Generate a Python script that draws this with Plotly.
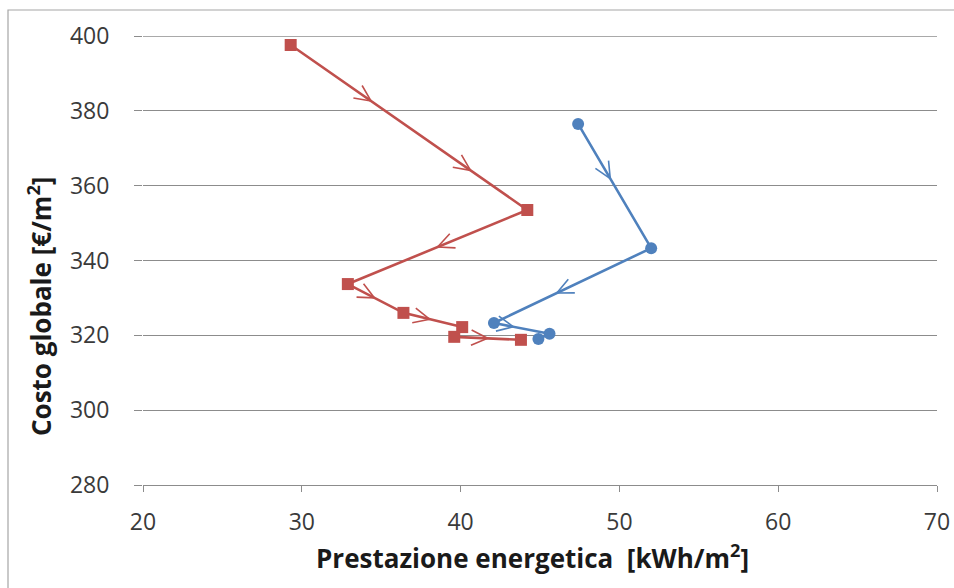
import math
import plotly.graph_objects as go

# ---- data ----
red_x = [29.3, 44.2, 32.9, 36.4, 40.1, 39.6, 43.8]
red_y = [397.6, 353.5, 333.7, 326.0, 322.2, 319.6, 318.8]
blue_x = [47.4, 52.0, 42.1, 45.6, 44.9]
blue_y = [376.5, 343.3, 323.3, 320.4, 319.0]
# fractions along each segment where a direction chevron is drawn
red_arrow_pos = [[0.34, 0.76], [0.5], [0.48], [0.45], [], [0.5]]
blue_arrow_pos = [[0.44], [0.6], [0.35], []]

x_range = [20, 70]
y_range = [280, 400]
x_ticks = [20, 30, 40, 50, 60, 70]
y_ticks = [280, 300, 320, 340, 360, 380, 400]

x_title = "<b>Prestazione energetica  [kWh/m<sup>2</sup>]</b>"
y_title = "<b>Costo globale [€/m<sup>2</sup>]</b>"

RED = "#C0504D"
BLUE = "#4F81BD"
GRID = "#8C8C8C"

W, H = 954, 588
ML, MR, MT, MB = 143, 17, 36, 103
PW, PH = W - ML - MR, H - MT - MB


def to_px(x, y):
    px = (x - x_range[0]) / (x_range[1] - x_range[0]) * PW
    py = (y - y_range[0]) / (y_range[1] - y_range[0]) * PH
    return px, py


def to_data(px, py):
    return (x_range[0] + px / PW * (x_range[1] - x_range[0]),
            y_range[0] + py / PH * (y_range[1] - y_range[0]))


def chevrons(xs, ys, positions, arm=18, half_angle=25):
    cx, cy = [], []
    a = math.radians(half_angle)
    for i, fr in enumerate(positions):
        x0, y0 = to_px(xs[i], ys[i])
        x1, y1 = to_px(xs[i + 1], ys[i + 1])
        dx, dy = x1 - x0, y1 - y0
        n = math.hypot(dx, dy)
        ux, uy = dx / n, dy / n
        for f in fr:
            tx, ty = x0 + f * dx, y0 + f * dy
            pts = []
            for s in (a, -a):
                bx = -(ux * math.cos(s) - uy * math.sin(s))
                by = -(ux * math.sin(s) + uy * math.cos(s))
                pts.append((tx + arm * bx, ty + arm * by))
            for p in (pts[0], (tx, ty), pts[1]):
                d = to_data(*p)
                cx.append(d[0])
                cy.append(d[1])
            cx.append(None)
            cy.append(None)
    return cx, cy


fig = go.Figure()

for xs, ys, pos, col in ((red_x, red_y, red_arrow_pos, RED),
                         (blue_x, blue_y, blue_arrow_pos, BLUE)):
    cx, cy = chevrons(xs, ys, pos)
    fig.add_trace(go.Scatter(x=cx, y=cy, mode="lines",
                             line=dict(color=col, width=1.6),
                             hoverinfo="skip", showlegend=False))

fig.add_trace(go.Scatter(x=red_x, y=red_y, mode="lines+markers",
                         line=dict(color=RED, width=2.6),
                         marker=dict(symbol="square", size=12, color=RED),
                         showlegend=False))
fig.add_trace(go.Scatter(x=blue_x, y=blue_y, mode="lines+markers",
                         line=dict(color=BLUE, width=2.6),
                         marker=dict(symbol="circle", size=12, color=BLUE),
                         showlegend=False))

FONT = "'Open Sans', sans-serif"
TICK_FONT = dict(family=FONT, size=23, color="#3a3a3a")
TITLE_FONT = dict(family=FONT, size=26, color="#1a1a1a")

fig.update_layout(
    width=W, height=H,
    margin=dict(l=ML, r=MR, t=MT, b=MB, autoexpand=False),
    paper_bgcolor="white", plot_bgcolor="white",
    font=dict(family=FONT, size=20, color="#333333"),
    showlegend=False,
    xaxis=dict(range=x_range, tickvals=x_ticks, showgrid=False, zeroline=False,
               showline=True, linecolor=GRID, linewidth=1.3,
               ticks="outside", ticklen=6, tickcolor=GRID, tickwidth=1.3,
               tickfont=TICK_FONT, ticklabelstandoff=10, automargin=False),
    yaxis=dict(range=y_range, tickvals=y_ticks, showgrid=True, gridcolor=GRID,
               gridwidth=1.3, zeroline=False, showline=False,
               ticks="outside", ticklen=8, tickcolor=GRID, tickwidth=1.3,
               tickfont=TICK_FONT, ticklabelstandoff=20, automargin=False),
    shapes=[
        dict(type="rect", xref="paper", yref="paper",
             x0=-135 / PW, x1=1.2, y0=-0.5, y1=1 + 26 / PH,
             line=dict(color="#A6A6A6", width=1.2), layer="below"),
        dict(type="line", xref="paper", yref="y", x0=0, x1=1,
             y0=y_range[1], y1=y_range[1],
             line=dict(color=GRID, width=1.3), layer="below"),
    ],
    annotations=[
        dict(text=x_title, xref="paper", yref="paper",
             x=(532 - ML) / PW, y=-(557 - (MT + PH)) / PH,
             xanchor="center", yanchor="middle", showarrow=False,
             font=TITLE_FONT),
        dict(text=y_title, xref="paper", yref="paper", textangle=-90,
             x=-(ML - 40) / PW, y=1 - (306 - MT) / PH,
             xanchor="center", yanchor="middle", showarrow=False,
             font=TITLE_FONT),
    ],
)

fig.write_html("out.html")
